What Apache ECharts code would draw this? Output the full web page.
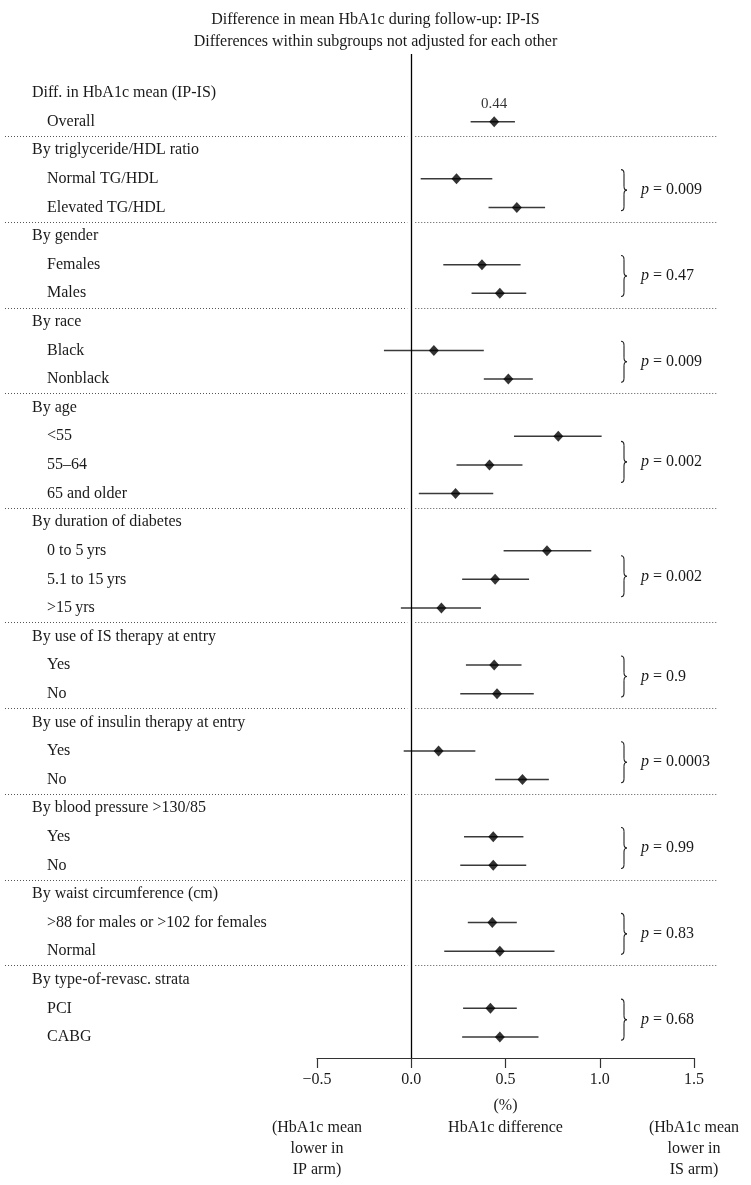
<!DOCTYPE html>
<html>
<head>
<meta charset="utf-8">
<script src="https://cdn.jsdelivr.net/npm/echarts@6/dist/echarts.min.js"></script>
<style>
  html, body { margin: 0; padding: 0; background: #fff; }
  #chart { width: 751px; height: 1185px; }
</style>
</head>
<body>
<div id="chart"></div>
<script>
const groupTitles = [
  "Diff. in HbA1c mean (IP-IS)",
  "By triglyceride/HDL ratio",
  "By gender",
  "By race",
  "By age",
  "By duration of diabetes",
  "By use of IS therapy at entry",
  "By use of insulin therapy at entry",
  "By blood pressure >130/85",
  "By waist circumference (cm)",
  "By type-of-revasc. strata",
];

const subgroupLabels = [
  ["Overall"],
  ["Normal TG/HDL", "Elevated TG/HDL"],
  ["Females", "Males"],
  ["Black", "Nonblack"],
  ["<55", "55\u201364", "65 and older"],
  ["0 to 5\u2009yrs", "5.1 to 15\u2009yrs", ">15\u2009yrs"],
  ["Yes", "No"],
  ["Yes", "No"],
  ["Yes", "No"],
  [">88 for males or >102 for females", "Normal"],
  ["PCI", "CABG"],
];

const estimates = [
  [0.44],
  [0.24, 0.56],
  [0.375, 0.47],
  [0.12, 0.515],
  [0.78, 0.415, 0.235],
  [0.72, 0.445, 0.16],
  [0.44, 0.455],
  [0.145, 0.59],
  [0.435, 0.435],
  [0.43, 0.47],
  [0.42, 0.47],
];

const lowerCI = [
  [0.315],
  [0.05, 0.41],
  [0.17, 0.32],
  [-0.145, 0.385],
  [0.545, 0.24, 0.04],
  [0.49, 0.27, -0.055],
  [0.29, 0.26],
  [-0.04, 0.445],
  [0.28, 0.26],
  [0.3, 0.175],
  [0.275, 0.27],
];

const upperCI = [
  [0.55],
  [0.43, 0.71],
  [0.58, 0.61],
  [0.385, 0.645],
  [1.01, 0.59, 0.435],
  [0.955, 0.625, 0.37],
  [0.585, 0.65],
  [0.34, 0.73],
  [0.595, 0.61],
  [0.56, 0.76],
  [0.56, 0.675],
];

const pValues = ["", "0.009", "0.47", "0.009", "0.002", "0.002", "0.9", "0.0003", "0.99", "0.83", "0.68"];

const xTicks = [-0.5, 0, 0.5, 1.0, 1.5];
const axisTitle = ["(%)", "HbA1c difference"];
const leftNote = ["(HbA1c mean", "lower in", "IP arm)"];
const rightNote = ["(HbA1c mean", "lower in", "IS arm)"];

const FONT = "'Liberation Serif', 'DejaVu Serif', serif";
const TEXT = "#1a1a1a";

// lay groups out row by row: header row, then one row per subgroup
const headerRows = [];
const itemRows = [];
const ciData = [];
const pointData = [];
let row = 0;
groupTitles.forEach((title, g) => {
  headerRows.push(row++);
  const rows = [];
  subgroupLabels[g].forEach((label, i) => {
    rows.push(row);
    ciData.push([lowerCI[g][i], upperCI[g][i], row]);
    pointData.push([estimates[g][i], row]);
    row++;
  });
  itemRows.push(rows);
});
const lastRow = row - 1;

const chart = echarts.init(document.getElementById("chart"), null, { renderer: "canvas" });

chart.setOption({
  animation: false,
  backgroundColor: "#fff",
  title: {
    text: "Difference in mean HbA1c during follow-up: IP-IS\nDifferences within subgroups not adjusted for each other",
    left: "center",
    top: 4,
    textStyle: {
      fontFamily: FONT,
      fontSize: 16,
      fontWeight: "normal",
      color: TEXT,
      lineHeight: 22,
    },
  },
  grid: { left: 317, right: 57, top: 54, bottom: 127 },
  xAxis: {
    type: "value",
    min: xTicks[0],
    max: xTicks[xTicks.length - 1],
    interval: 0.5,
    splitLine: { show: false },
    axisLine: { show: true, onZero: false, lineStyle: { color: "#333", width: 1.2 } },
    axisTick: { show: true, length: 10, lineStyle: { color: "#333", width: 1.2 } },
    axisLabel: {
      fontFamily: FONT,
      fontSize: 16,
      color: TEXT,
      margin: 14,
      formatter: (v) => (v < 0 ? "\u2212" : "") + Math.abs(v).toFixed(1),
    },
  },
  yAxis: {
    type: "value",
    inverse: true,
    min: -1.365,
    max: lastRow + 0.735,
    show: false,
  },
  series: [
    {
      type: "custom",
      data: ciData,
      encode: { x: [0, 1], y: 2 },
      renderItem: (params, api) => {
        const a = api.coord([api.value(0), api.value(2)]);
        const b = api.coord([api.value(1), api.value(2)]);
        return {
          type: "line",
          shape: { x1: a[0], y1: a[1], x2: b[0], y2: b[1] },
          style: { stroke: "#3a3a3a", lineWidth: 1.5 },
        };
      },
      z: 2,
    },
    {
      type: "scatter",
      data: pointData.map((d, i) =>
        i === 0
          ? {
              value: d,
              label: {
                show: true,
                position: "top",
                distance: 5,
                formatter: estimates[0][0].toFixed(2),
                fontFamily: FONT,
                fontSize: 15,
                color: "#000",
              },
            }
          : d,
      ),
      symbol: "diamond",
      symbolSize: [10, 11],
      itemStyle: { color: "#000" },
      z: 3,
      markLine: {
        silent: true,
        symbol: "none",
        label: { show: false },
        lineStyle: { color: "#000", width: 1.3, type: "solid" },
        data: [{ xAxis: 0 }],
      },
    },
  ],
});

// text, separators and braces placed from the axes' own pixel mapping
const yPx = (r) => chart.convertToPixel({ yAxisIndex: 0 }, r);
const xPx = (v) => chart.convertToPixel({ xAxisIndex: 0 }, v);
const zeroX = xPx(0);

const textEl = (text, x, y, align) => ({
  type: "text",
  x: x,
  y: y,
  style: {
    text: text,
    font: "16px " + FONT,
    fill: TEXT,
    align: align,
    verticalAlign: "middle",
    textAlign: align,
    textVerticalAlign: "middle",
  },
  silent: true,
});

const strokeStyle = { stroke: "#222", fill: null, lineWidth: 1.1 };
const curve = (x1, y1, cx, cy, x2, y2) => ({
  type: "bezierCurve",
  shape: { x1: x1, y1: y1, cpx1: cx, cpy1: cy, x2: x2, y2: y2 },
  style: strokeStyle,
  silent: true,
});
const segment = (x1, y1, x2, y2, style) => ({
  type: "line",
  shape: { x1: x1, y1: y1, x2: x2, y2: y2 },
  style: style || strokeStyle,
  silent: true,
});

const graphics = [];

groupTitles.forEach((title, g) => {
  graphics.push(textEl(title, 32, yPx(headerRows[g]), "left"));
  subgroupLabels[g].forEach((label, i) => {
    graphics.push(textEl(label, 47, yPx(itemRows[g][i]), "left"));
  });

  // dotted separator under the group
  if (g < groupTitles.length - 1) {
    const ys = Math.round(yPx(itemRows[g][itemRows[g].length - 1] + 0.5)) + 0.5;
    const dot = { stroke: "#555", lineWidth: 1, lineDash: [1, 2] };
    graphics.push(segment(5, ys, zeroX - 4, ys, dot));
    graphics.push(segment(zeroX + 4, ys, 718, ys, dot));
  }

  // brace and p value
  if (pValues[g]) {
    const rows = itemRows[g];
    const cy = (yPx(rows[0]) + yPx(rows[rows.length - 1])) / 2 - 3;
    const h = 20.5;
    const x0 = 621;
    const xm = x0 + 3;
    graphics.push(curve(x0, cy - h, xm, cy - h, xm, cy - h + 4));
    graphics.push(segment(xm, cy - h + 4, xm, cy - 4));
    graphics.push(curve(xm, cy - 4, xm, cy, x0 + 6, cy));
    graphics.push(curve(x0 + 6, cy, xm, cy, xm, cy + 4));
    graphics.push(segment(xm, cy + 4, xm, cy + h - 4));
    graphics.push(curve(xm, cy + h - 4, xm, cy + h, x0, cy + h));
    graphics.push({
      type: "text",
      x: 641,
      y: cy,
      style: {
        text: "{i|p} = " + pValues[g],
        font: "16px " + FONT,
        fill: TEXT,
        verticalAlign: "middle",
        textVerticalAlign: "middle",
        rich: {
          i: { fontStyle: "italic", fontFamily: FONT, fontSize: 16, fill: TEXT, color: TEXT },
        },
      },
      silent: true,
    });
  }
});

// notes under the axis
graphics.push(textEl(axisTitle[0], xPx(0.5), 1106, "center"));
graphics.push(textEl(axisTitle[1], xPx(0.5), 1128, "center"));
leftNote.forEach((t, i) => graphics.push(textEl(t, xPx(-0.5), 1128 + i * 21, "center")));
rightNote.forEach((t, i) => graphics.push(textEl(t, xPx(1.5), 1128 + i * 21, "center")));

chart.setOption({ graphic: { elements: graphics } });

window.addEventListener("resize", () => chart.resize());
</script>
</body>
</html>
